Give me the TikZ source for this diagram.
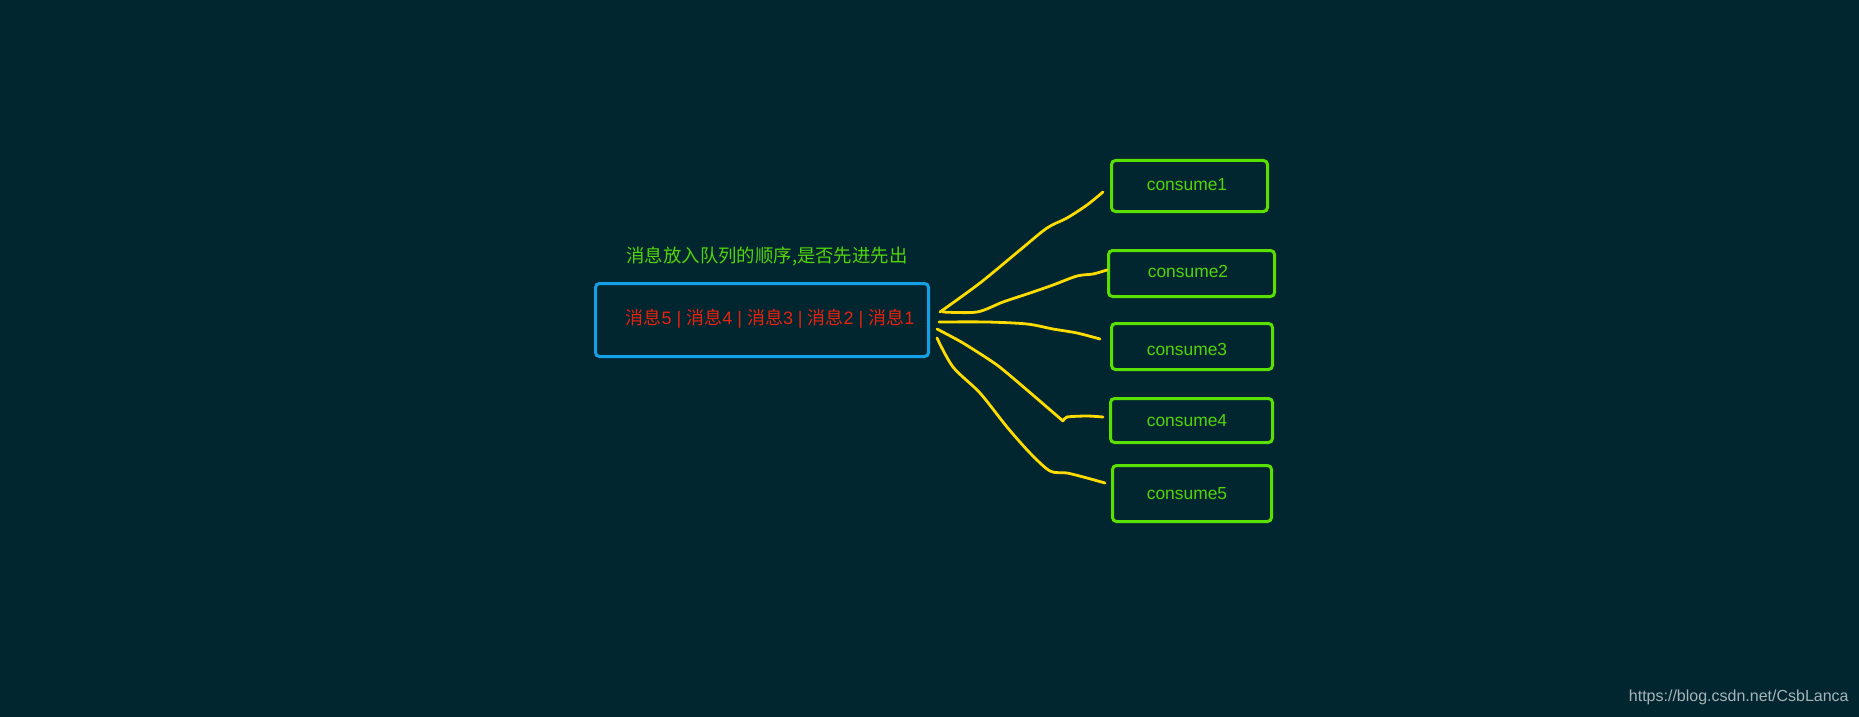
\documentclass[tikz,border=0pt]{standalone}
\usepackage{fontspec}
\setmainfont{Liberation Sans}
\newfontfamily\cjk{Noto Sans CJK SC}
\usetikzlibrary{calc}
\definecolor{bgc}{HTML}{012630}
\definecolor{qblue}{HTML}{14A0E6}
\definecolor{cgreen}{HTML}{5AE000}
\definecolor{tgreen}{HTML}{52D40A}
\definecolor{mred}{HTML}{E8220E}
\definecolor{wyel}{HTML}{FFDC00}
\definecolor{wmark}{HTML}{A6B4B8}
\newcommand{\xx}[1]{{\cjk #1}}
\tikzset{
  qbox/.style={draw=qblue, line width=1.5pt, rounded corners=2pt, inner sep=0pt},
  cbox/.style={draw=cgreen, line width=1.5pt, rounded corners=2pt, inner sep=0pt},
  ctext/.style={text=tgreen, font=\fontsize{8.7pt}{9pt}\selectfont, inner sep=0pt},
  wire/.style={draw=wyel, line width=1.4pt, line cap=round, line join=round},
}
\begin{document}
\begin{tikzpicture}[x=0.5pt, y=-0.5pt]
\useasboundingbox[fill=bgc] (0,0) rectangle (1859,717);
% queue box
\node[qbox, minimum width=166.5pt, minimum height=36.5pt] (q) at (762,320) {};
\node[text=mred, font=\fontsize{9pt}{10pt}\selectfont, inner sep=0pt] (qt) at (770,319) {\xx{消息}5 | \xx{消息}4 | \xx{消息}3 | \xx{消息}2 | \xx{消息}1};
\node[text=tgreen, font=\cjk\fontsize{9.2pt}{10pt}\selectfont, inner sep=0pt] (title) at (767,256) {消息放入队列的顺序,是否先进先出};
% consumers
\node[cbox, minimum width=78pt, minimum height=25.5pt] (c1) at (1189.5,186) {};
\node[cbox, minimum width=83pt, minimum height=23pt] (c2) at (1191.5,273.5) {};
\node[cbox, minimum width=80.5pt, minimum height=23pt] (c3) at (1192,346.5) {};
\node[cbox, minimum width=81pt, minimum height=22pt] (c4) at (1191.5,420.5) {};
\node[cbox, minimum width=79.5pt, minimum height=28pt] (c5) at (1192,493.5) {};
\node[ctext] (t1) at (1187,185) {consume1};
\node[ctext] (t2) at (1188,272) {consume2};
\node[ctext] (t3) at (1187,350) {consume3};
\node[ctext] (t4) at (1187,421) {consume4};
\node[ctext] (t5) at (1187,494) {consume5};
% connector end points
\coordinate (s1) at ($(q.east)+(10,-8)$);
\coordinate (s2) at ($(q.east)+(13,-8)$);
\coordinate (s3) at ($(q.east)+(9,2)$);
\coordinate (s4) at ($(q.east)+(7,9)$);
\coordinate (s5) at ($(q.east)+(7,18)$);
\coordinate (e1) at ($(c1.west)+(-7,6)$);
\coordinate (e2) at ($(c2.west)+(0,-3.5)$);
\coordinate (e3) at ($(c3.west)+(-10,-7.5)$);
\coordinate (e4) at ($(c4.west)+(-6,-3.5)$);
\coordinate (e5) at ($(c5.west)+(-6,-10.5)$);
% connectors
\draw[wire] plot[smooth, tension=0.5] coordinates {(s1) (980,283) (1020,250) (1047,228) (1067,218) (1087,205) (e1)};
\draw[wire] plot[smooth, tension=0.5] coordinates {(s2) (977,312) (1003,302) (1030,293) (1053,285) (1077,276) (1093,274) (e2)};
\draw[wire] plot[smooth, tension=0.5] coordinates {(s3) (987,322) (1027,324) (1053,329) (1077,333) (e3)};
\draw[wire] plot[smooth, tension=0.4] coordinates {(s4) (963,343) (997,365) (1027,390) (1063,421)};
\draw[wire] plot[smooth, tension=0.4] coordinates {(1063,421) (1067,417) (1087,416) (e4)};
\draw[wire] plot[smooth, tension=0.5] coordinates {(s5) (953,367) (980,393) (1007,427) (1030,453) (1050,471) (1067,473) (1087,478) (e5)};
% watermark
\node[text=wmark, font=\fontsize{8pt}{9pt}\selectfont, anchor=east, inner sep=0pt] (wm) at (1849,697) {https://blog.csdn.net/CsbLanca};
\end{tikzpicture}
\end{document}
